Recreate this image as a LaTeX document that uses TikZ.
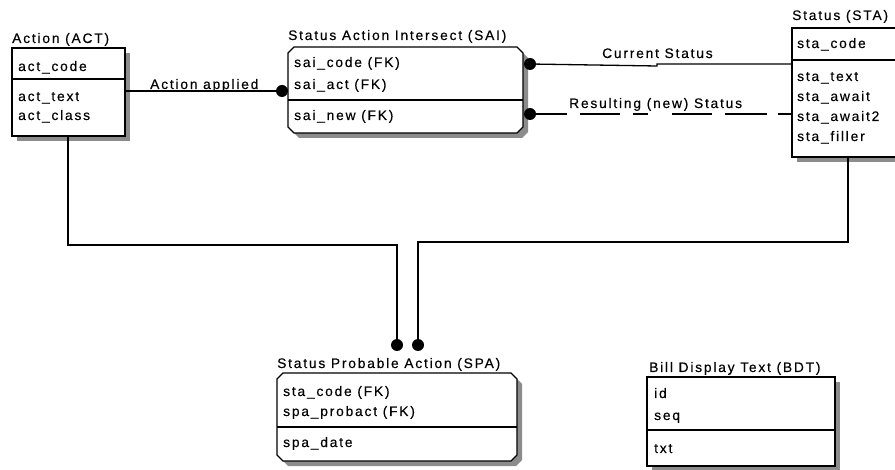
\documentclass[tikz,border=0pt]{standalone}
\usepackage{fontspec}
\setmainfont{Liberation Sans}[LetterSpace=13,FakeBold=0.3]
\pgfdeclarelayer{bg}
\pgfdeclarelayer{sh}
\pgfsetlayers{bg,sh,main}
\newcommand{\chamfpath}[2]{([shift={(#2+6,#2)}]#1.north west) -- ([shift={(#2-6,#2)}]#1.north east) -- ([shift={(#2,#2+6)}]#1.north east) -- ([shift={(#2,#2-6)}]#1.south east) -- ([shift={(#2-6,#2)}]#1.south east) -- ([shift={(#2+6,#2)}]#1.south west) -- ([shift={(#2,#2-6)}]#1.south west) -- ([shift={(#2,#2+6)}]#1.north west) -- cycle}
\newcommand{\rectpath}[2]{([shift={(#2,#2)}]#1.north west) rectangle ([shift={(#2,#2)}]#1.south east)}
\begin{document}
\begin{tikzpicture}[x=1pt,y=-1pt,
  lw/.style={line width=1.3pt},
  shadowc/.style={fill=black!45},
  box/.style={rectangle,anchor=north west,inner sep=0pt,outer sep=0pt},
  entity/.style={box,draw,lw,fill=white},
  txt/.style={font=\fontsize{13.8pt}{16pt}\selectfont,inner sep=0pt,anchor=base west},
  rel/.style={lw},
  dot/.style={circle,fill=black,inner sep=0pt,minimum size=12pt}
]
\clip (0,0) rectangle (895,470);
\begin{pgfonlayer}{bg}
\fill[white] (0,0) rectangle (895,470);
\end{pgfonlayer}

% ACT
\node[entity,minimum width=113pt,minimum height=88pt] (act) at (12,48) {};
\draw[lw] (12,79) -- (125,79);
\node[txt] (actT) at (12,43) {Action (ACT)};
\node[txt] (act1) at (18,71) {act\_code};
\node[txt] (act2) at (18,101) {act\_text};
\node[txt] (act3) at (18,120) {act\_class};

% SAI
\node[box,minimum width=235pt,minimum height=86pt] (sai) at (288,47) {};
\filldraw[lw,fill=white] \chamfpath{sai}{0};
\draw[lw] (288,100) -- (523,100);
\node[txt] (saiT) at (288,40) {Status Action Intersect (SAI)};
\node[txt] (sai1) at (294,67) {sai\_code (FK)};
\node[txt] (sai2) at (294,89) {sai\_act (FK)};
\node[txt] (sai3) at (294,120) {sai\_new (FK)};

% STA
\node[entity,minimum width=120pt,minimum height=129pt] (sta) at (792,28) {};
\draw[lw] (792,60) -- (912,60);
\node[txt] (staT) at (792,20) {Status (STA)};
\node[txt] (sta1) at (797,48) {sta\_code};
\node[txt] (sta2) at (797,81) {sta\_text};
\node[txt] (sta3) at (797,101) {sta\_await};
\node[txt] (sta4) at (797,121) {sta\_await2};
\node[txt] (sta5) at (797,141) {sta\_filler};

% SPA
\node[box,minimum width=240pt,minimum height=88pt] (spa) at (277,373) {};
\filldraw[lw,fill=white] \chamfpath{spa}{0};
\draw[lw] (277,427) -- (517,427);
\node[txt] (spaT) at (277,368) {Status Probable Action (SPA)};
\node[txt] (spa1) at (283,396) {sta\_code (FK)};
\node[txt] (spa2) at (283,416) {spa\_probact (FK)};
\node[txt] (spa3) at (283,447) {spa\_date};

% BDT
\node[entity,minimum width=188pt,minimum height=89pt] (bdt) at (647,377) {};
\draw[lw] (647,430) -- (835,430);
\node[txt] (bdtT) at (649,372) {Bill Display Text (BDT)};
\node[txt] (bdt1) at (654,398) {id};
\node[txt] (bdt2) at (654,420) {seq};
\node[txt] (bdt3) at (654,453) {txt};

% shadows
\begin{pgfonlayer}{sh}
\fill[shadowc] \rectpath{act}{5};
\fill[shadowc] \chamfpath{sai}{5};
\fill[shadowc] \rectpath{sta}{5};
\fill[shadowc] \chamfpath{spa}{5};
\fill[shadowc] \rectpath{bdt}{5};
\end{pgfonlayer}

% dots
\node[dot] (d1) at (282,91) {};
\node[dot] (d2) at (530,64) {};
\node[dot] (d3) at (530,114) {};
\node[dot] (d4) at (397,345) {};
\node[dot] (d5) at (418,345) {};

% relationships
\draw[rel] (act.east |- d1) -- (d1);
\node[txt] (lab1) at (150,89) {Action applied};
\draw[rel] (d2.center) -- (657,66) -- (657,64) -- (sta.west |- d2);
\node[txt] (lab2) at (602,58) {Current Status};
\draw[rel,dash pattern=on 37pt off 13pt on 40pt off 13pt on 15pt off 24pt on 40pt off 13pt on 42pt off 11pt on 30pt] (d3.center) -- (sta.west |- d3);
\node[txt] (lab3) at (569,108) {Resulting (new) Status};
\coordinate (c1) at (68,245);
\coordinate (c2) at (848,242);
\draw[rel] (act.south -| c1) -- (c1) -- (c1 -| d4) -- (d4.center);
\draw[rel] (sta.south -| c2) -- (c2) -- (c2 -| d5) -- (d5.center);
\end{tikzpicture}
\end{document}
